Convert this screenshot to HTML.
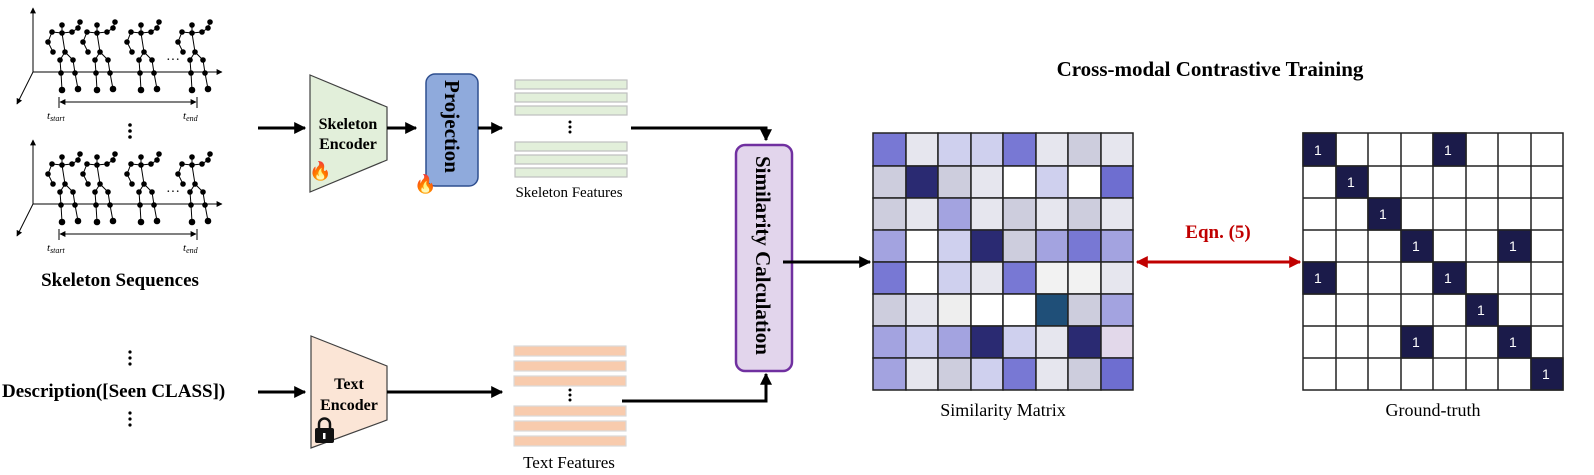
<!DOCTYPE html>
<html><head><meta charset="utf-8"><style>
html,body{margin:0;padding:0;background:#fff;}
svg{display:block;}
text{font-family:"Liberation Serif",serif;}
</style></head><body>
<svg width="1594" height="475" viewBox="0 0 1594 475" xmlns="http://www.w3.org/2000/svg">
<defs>
<marker id="ah" viewBox="0 0 10 10" refX="9" refY="5" markerWidth="4" markerHeight="4" orient="auto"><path d="M0,0 L10,5 L0,10 z" fill="#000"/></marker>
<marker id="rh" viewBox="0 0 10 10" refX="9" refY="5" markerWidth="4" markerHeight="4" orient="auto-start-reverse"><path d="M0,0 L10,5 L0,10 z" fill="#c00000"/></marker>
<marker id="sh" viewBox="0 0 10 10" refX="9" refY="5" markerWidth="6" markerHeight="6" orient="auto-start-reverse"><path d="M0,0 L10,5 L0,10 z" fill="#000"/></marker>
<g id="fig" stroke="#000" stroke-width="1" fill="#000">
<polyline points="-10,-1 -14,9 -9,19" fill="none"/>
<polyline points="-10,-1 0,0 10,-1 16,-5 18,-11" fill="none"/>
<line x1="0" y1="-8" x2="0" y2="0"/>
<polyline points="0,0 3,19 -2,27 -1,40 0,57" fill="none"/>
<polyline points="3,19 11,27 13,40 16,56" fill="none"/>
<circle cx="0" cy="-8" r="2.3"/><circle cx="0" cy="0" r="2.3"/><circle cx="-10" cy="-1" r="2.3"/><circle cx="-14" cy="9" r="2.3"/><circle cx="-9" cy="19" r="2.3"/>
<circle cx="10" cy="-1" r="2.3"/><circle cx="16" cy="-5" r="2.3"/><circle cx="18" cy="-11" r="2.3"/>
<circle cx="3" cy="19" r="2.3"/><circle cx="-2" cy="27" r="2.3"/><circle cx="11" cy="27" r="2.3"/>
<circle cx="-1" cy="40" r="2.3"/><circle cx="13" cy="40" r="2.3"/><circle cx="0" cy="57" r="2.8"/><circle cx="16" cy="56" r="2.8"/>
</g>
<g id="seq">
<line x1="33" y1="72" x2="33" y2="8" stroke="#000" marker-end="url(#sh)"/>
<line x1="33" y1="72" x2="222" y2="72" stroke="#000" marker-end="url(#sh)"/>
<line x1="33" y1="72" x2="17" y2="104" stroke="#000" marker-end="url(#sh)"/>
<use href="#fig" x="62" y="33"/><use href="#fig" x="97" y="33"/><use href="#fig" x="141" y="33"/><use href="#fig" x="192" y="33"/>
<text x="166" y="64" font-size="14">···</text>
<line x1="59" y1="97" x2="59" y2="108" stroke="#000"/><line x1="197" y1="97" x2="197" y2="108" stroke="#000"/>
<line x1="60" y1="102" x2="196" y2="102" stroke="#000" marker-start="url(#sh)" marker-end="url(#sh)"/>
<text x="47" y="119" font-size="11" font-style="italic">t<tspan font-size="8" dy="2">start</tspan></text>
<text x="183" y="119" font-size="11" font-style="italic">t<tspan font-size="8" dy="2">end</tspan></text>
</g>
</defs>

<use href="#seq" x="0" y="0"/>
<use href="#seq" x="0" y="132"/>
<g fill="#000"><circle cx="130" cy="125" r="1.8"/><circle cx="130" cy="131" r="1.8"/><circle cx="130" cy="137" r="1.8"/></g>
<text x="120" y="286" font-size="19" font-weight="bold" text-anchor="middle">Skeleton Sequences</text>

<g fill="#000"><circle cx="130" cy="352" r="1.6"/><circle cx="130" cy="358" r="1.6"/><circle cx="130" cy="364" r="1.6"/>
<circle cx="130" cy="413" r="1.6"/><circle cx="130" cy="419" r="1.6"/><circle cx="130" cy="425" r="1.6"/></g>
<text x="2" y="397" font-size="19" font-weight="bold">Description([Seen CLASS])</text>

<line x1="258" y1="128" x2="305" y2="128" stroke="#000" stroke-width="3" marker-end="url(#ah)"/>
<polygon points="310,75 387,107 387,160 310,192" fill="#e2efda" stroke="#404040" stroke-width="1.2"/>
<text x="348" y="129" font-size="16" font-weight="bold" text-anchor="middle">Skeleton</text>
<text x="348" y="149" font-size="16" font-weight="bold" text-anchor="middle">Encoder</text>
<text x="309" y="177" font-size="18">🔥</text>
<line x1="387" y1="128" x2="416" y2="128" stroke="#000" stroke-width="3" marker-end="url(#ah)"/>
<rect x="426" y="74" width="52" height="112" rx="9" fill="#8faadc" stroke="#2f4f8f" stroke-width="1.5"/>
<text transform="translate(445,80) rotate(90)" font-size="21" font-weight="bold">Projection</text>
<text x="414" y="190" font-size="18">🔥</text>
<line x1="478" y1="128" x2="502" y2="128" stroke="#000" stroke-width="3" marker-end="url(#ah)"/>
<g fill="#e2efda" stroke="#bfbfbf" stroke-width="1.2">
<rect x="515" y="80" width="112" height="9"/><rect x="515" y="93" width="112" height="9"/><rect x="515" y="106" width="112" height="9"/>
<rect x="515" y="142" width="112" height="9"/><rect x="515" y="155" width="112" height="9"/><rect x="515" y="168" width="112" height="9"/>
</g>
<g fill="#000"><circle cx="570" cy="122" r="1.5"/><circle cx="570" cy="127" r="1.5"/><circle cx="570" cy="132" r="1.5"/></g>
<text x="569" y="197" font-size="15" text-anchor="middle">Skeleton Features</text>
<polyline points="631,128 766,128 766,140" fill="none" stroke="#000" stroke-width="3" marker-end="url(#ah)"/>

<line x1="258" y1="392" x2="305" y2="392" stroke="#000" stroke-width="3" marker-end="url(#ah)"/>
<polygon points="311,336 387,366 387,420 311,448" fill="#fbe5d6" stroke="#404040" stroke-width="1.2"/>
<text x="349" y="389" font-size="16" font-weight="bold" text-anchor="middle">Text</text>
<text x="349" y="410" font-size="16" font-weight="bold" text-anchor="middle">Encoder</text>
<g fill="#111"><rect x="315" y="428" width="19" height="15" rx="2"/><path d="M319,428 v-4 a5.5,5.5 0 0 1 11,0 v4" fill="none" stroke="#111" stroke-width="2.5"/></g>
<rect x="323" y="433" width="2.5" height="6" fill="#fff"/>
<line x1="387" y1="392" x2="502" y2="392" stroke="#000" stroke-width="3" marker-end="url(#ah)"/>
<g fill="#f8cbad" stroke="#d9d9d9" stroke-width="1.2">
<rect x="514" y="346" width="112" height="10"/><rect x="514" y="361" width="112" height="10"/><rect x="514" y="376" width="112" height="10"/>
<rect x="514" y="406" width="112" height="10"/><rect x="514" y="421" width="112" height="10"/><rect x="514" y="436" width="112" height="10"/>
</g>
<g fill="#000"><circle cx="570" cy="390" r="1.5"/><circle cx="570" cy="395" r="1.5"/><circle cx="570" cy="400" r="1.5"/></g>
<text x="569" y="468" font-size="17" text-anchor="middle">Text Features</text>
<polyline points="622,401 766,401 766,374" fill="none" stroke="#000" stroke-width="3" marker-end="url(#ah)"/>

<rect x="736" y="145" width="56" height="226" rx="9" fill="#e2d5ec" stroke="#7030a0" stroke-width="2.5"/>
<text transform="translate(756,156) rotate(90)" font-size="21" font-weight="bold">Similarity Calculation</text>
<line x1="783" y1="262" x2="870" y2="262" stroke="#000" stroke-width="3" marker-end="url(#ah)"/>

<text x="1210" y="76" font-size="21" font-weight="bold" text-anchor="middle">Cross-modal Contrastive Training</text>

<g stroke="#222" stroke-width="1.5">
<rect x="873" y="133" width="33" height="33" fill="#7878d4"/><rect x="906" y="133" width="32" height="33" fill="#e6e6ee"/><rect x="938" y="133" width="33" height="33" fill="#cfd0ee"/><rect x="971" y="133" width="32" height="33" fill="#cfd0ee"/><rect x="1003" y="133" width="33" height="33" fill="#7878d4"/><rect x="1036" y="133" width="32" height="33" fill="#e6e6ee"/><rect x="1068" y="133" width="33" height="33" fill="#cdcddd"/><rect x="1101" y="133" width="32" height="33" fill="#e6e6ee"/>
<rect x="873" y="166" width="33" height="32" fill="#cdcddd"/><rect x="906" y="166" width="32" height="32" fill="#2a2a72"/><rect x="938" y="166" width="33" height="32" fill="#cdcddd"/><rect x="971" y="166" width="32" height="32" fill="#e6e6ee"/><rect x="1003" y="166" width="33" height="32" fill="#fff"/><rect x="1036" y="166" width="32" height="32" fill="#cfd0ee"/><rect x="1068" y="166" width="33" height="32" fill="#fff"/><rect x="1101" y="166" width="32" height="32" fill="#6e6ed0"/>
<rect x="873" y="198" width="33" height="32" fill="#cdcddd"/><rect x="906" y="198" width="32" height="32" fill="#e6e6ee"/><rect x="938" y="198" width="33" height="32" fill="#a3a3e0"/><rect x="971" y="198" width="32" height="32" fill="#e6e6ee"/><rect x="1003" y="198" width="33" height="32" fill="#cdcddd"/><rect x="1036" y="198" width="32" height="32" fill="#e6e6ee"/><rect x="1068" y="198" width="33" height="32" fill="#cdcddd"/><rect x="1101" y="198" width="32" height="32" fill="#e6e6ee"/>
<rect x="873" y="230" width="33" height="32" fill="#a3a3e0"/><rect x="906" y="230" width="32" height="32" fill="#fff"/><rect x="938" y="230" width="33" height="32" fill="#cfd0ee"/><rect x="971" y="230" width="32" height="32" fill="#2a2a72"/><rect x="1003" y="230" width="33" height="32" fill="#cdcddd"/><rect x="1036" y="230" width="32" height="32" fill="#a3a3e0"/><rect x="1068" y="230" width="33" height="32" fill="#7878d4"/><rect x="1101" y="230" width="32" height="32" fill="#a3a3e0"/>
<rect x="873" y="262" width="33" height="32" fill="#7878d4"/><rect x="906" y="262" width="32" height="32" fill="#fff"/><rect x="938" y="262" width="33" height="32" fill="#cfd0ee"/><rect x="971" y="262" width="32" height="32" fill="#e6e6ee"/><rect x="1003" y="262" width="33" height="32" fill="#7878d4"/><rect x="1036" y="262" width="32" height="32" fill="#f2f2f2"/><rect x="1068" y="262" width="33" height="32" fill="#f2f2f2"/><rect x="1101" y="262" width="32" height="32" fill="#e6e6ee"/>
<rect x="873" y="294" width="33" height="32" fill="#cdcddd"/><rect x="906" y="294" width="32" height="32" fill="#e6e6ee"/><rect x="938" y="294" width="33" height="32" fill="#eeeeee"/><rect x="971" y="294" width="32" height="32" fill="#fff"/><rect x="1003" y="294" width="33" height="32" fill="#fff"/><rect x="1036" y="294" width="32" height="32" fill="#1f4f78"/><rect x="1068" y="294" width="33" height="32" fill="#cdcddd"/><rect x="1101" y="294" width="32" height="32" fill="#a3a3e0"/>
<rect x="873" y="326" width="33" height="32" fill="#a3a3e0"/><rect x="906" y="326" width="32" height="32" fill="#cfd0ee"/><rect x="938" y="326" width="33" height="32" fill="#a3a3e0"/><rect x="971" y="326" width="32" height="32" fill="#2a2a72"/><rect x="1003" y="326" width="33" height="32" fill="#cfd0ee"/><rect x="1036" y="326" width="32" height="32" fill="#e6e6ee"/><rect x="1068" y="326" width="33" height="32" fill="#2a2a72"/><rect x="1101" y="326" width="32" height="32" fill="#e2d8ea"/>
<rect x="873" y="358" width="33" height="32" fill="#a3a3e0"/><rect x="906" y="358" width="32" height="32" fill="#e6e6ee"/><rect x="938" y="358" width="33" height="32" fill="#cdcddd"/><rect x="971" y="358" width="32" height="32" fill="#cfd0ee"/><rect x="1003" y="358" width="33" height="32" fill="#7878d4"/><rect x="1036" y="358" width="32" height="32" fill="#e6e6ee"/><rect x="1068" y="358" width="33" height="32" fill="#cdcddd"/><rect x="1101" y="358" width="32" height="32" fill="#6e6ed0"/>
</g>
<text x="1003" y="416" font-size="18" text-anchor="middle">Similarity Matrix</text>

<line x1="1137" y1="262" x2="1300" y2="262" stroke="#c00000" stroke-width="3" marker-start="url(#rh)" marker-end="url(#rh)"/>
<text x="1218" y="238" font-size="19" font-weight="bold" fill="#c00000" text-anchor="middle">Eqn. (5)</text>

<g stroke="#222" stroke-width="1.5" fill="#fff">
<rect x="1303" y="133" width="260" height="257"/>
<line x1="1336" y1="133" x2="1336" y2="390"/><line x1="1368" y1="133" x2="1368" y2="390"/><line x1="1401" y1="133" x2="1401" y2="390"/><line x1="1433" y1="133" x2="1433" y2="390"/><line x1="1466" y1="133" x2="1466" y2="390"/><line x1="1498" y1="133" x2="1498" y2="390"/><line x1="1531" y1="133" x2="1531" y2="390"/>
<line x1="1303" y1="166" x2="1563" y2="166"/><line x1="1303" y1="198" x2="1563" y2="198"/><line x1="1303" y1="230" x2="1563" y2="230"/><line x1="1303" y1="262" x2="1563" y2="262"/><line x1="1303" y1="294" x2="1563" y2="294"/><line x1="1303" y1="326" x2="1563" y2="326"/><line x1="1303" y1="358" x2="1563" y2="358"/>
</g>
<g stroke="#222" stroke-width="1.5" fill="#1b1b4a">
<rect x="1303" y="133" width="33" height="33"/><rect x="1433" y="133" width="33" height="33"/>
<rect x="1336" y="166" width="32" height="32"/>
<rect x="1368" y="198" width="33" height="32"/>
<rect x="1401" y="230" width="32" height="32"/><rect x="1498" y="230" width="33" height="32"/>
<rect x="1303" y="262" width="33" height="32"/><rect x="1433" y="262" width="33" height="32"/>
<rect x="1466" y="294" width="32" height="32"/>
<rect x="1401" y="326" width="32" height="32"/><rect x="1498" y="326" width="33" height="32"/>
<rect x="1531" y="358" width="32" height="32"/>
</g>
<g fill="#fff" font-size="14">
<text x="1314" y="155" style="font-family:'Liberation Sans',sans-serif">1</text><text x="1444" y="155" style="font-family:'Liberation Sans',sans-serif">1</text>
<text x="1347" y="187" style="font-family:'Liberation Sans',sans-serif">1</text>
<text x="1379" y="219" style="font-family:'Liberation Sans',sans-serif">1</text>
<text x="1412" y="251" style="font-family:'Liberation Sans',sans-serif">1</text><text x="1509" y="251" style="font-family:'Liberation Sans',sans-serif">1</text>
<text x="1314" y="283" style="font-family:'Liberation Sans',sans-serif">1</text><text x="1444" y="283" style="font-family:'Liberation Sans',sans-serif">1</text>
<text x="1477" y="315" style="font-family:'Liberation Sans',sans-serif">1</text>
<text x="1412" y="347" style="font-family:'Liberation Sans',sans-serif">1</text><text x="1509" y="347" style="font-family:'Liberation Sans',sans-serif">1</text>
<text x="1542" y="379" style="font-family:'Liberation Sans',sans-serif">1</text>
</g>
<text x="1433" y="416" font-size="18" text-anchor="middle">Ground-truth</text>
</svg>
</body></html>
